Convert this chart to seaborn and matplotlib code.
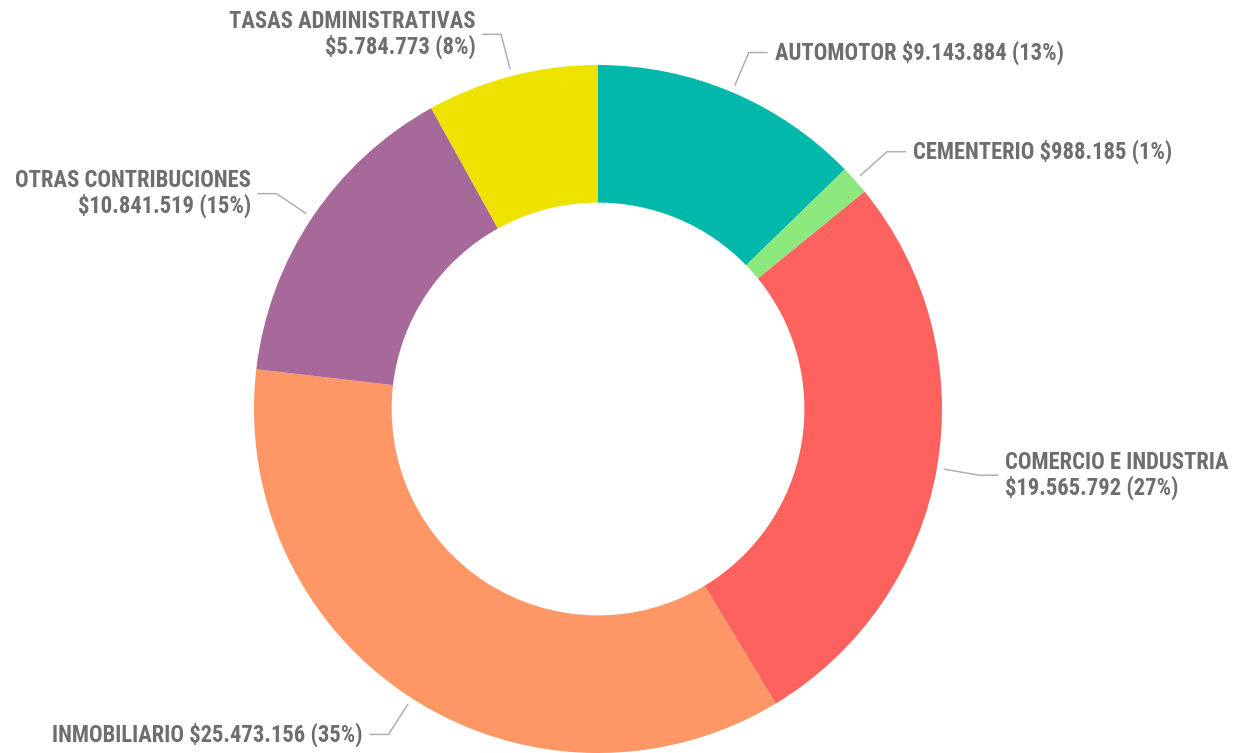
import numpy as np
import matplotlib
matplotlib.use("Agg")
import matplotlib.pyplot as plt
from matplotlib import font_manager as fm
import seaborn as sns

categories = ["AUTOMOTOR", "CEMENTERIO", "COMERCIO E INDUSTRIA", "INMOBILIARIO",
              "OTRAS CONTRIBUCIONES", "TASAS ADMINISTRATIVAS"]
values = [9143884, 988185, 19565792, 25473156, 10841519, 5784773]
colors = ["#01B8AA", "#8DE97D", "#FD625E", "#FE9666", "#A66999", "#EDE200"]
two_line = [False, False, True, False, True, True]

sns.set_theme(style="white")

fname = None
for f in fm.fontManager.ttflist:
    if f.fname.split("/")[-1].lower() == "robotocondensed-bold.ttf":
        fname = f.fname
        break
if fname:
    fontprops = fm.FontProperties(fname=fname, size=16.3)
else:
    fontprops = fm.FontProperties(family="DejaVu Sans", weight="bold", size=12.8)
plt.rcParams['font.family'] = ['DejaVu Sans']

W, H = 1243, 753
R = 344.0
cx, cy = 598.0, 409.0

fig = plt.figure(figsize=(W / 100, H / 100), dpi=100)
ax = fig.add_axes([0, 0, 1, 1])
ax.pie(values, startangle=90, counterclock=False, radius=1.0, colors=colors,
       wedgeprops=dict(width=0.4, linewidth=0))
ax.set_xlim(-cx / R, (W - cx) / R)
ax.set_ylim(-(H - cy) / R, cy / R)
ax.set_aspect('equal')
ax.axis('off')

total = sum(values)
cum = 0.0
for cat, v, tl in zip(categories, values, two_line):
    mid = (cum + v / 2) / total
    cum += v
    ang = np.deg2rad(90 - 360 * mid)
    x0, y0 = 1.02 * np.cos(ang), 1.02 * np.sin(ang)
    x1, y1 = 1.125 * np.cos(ang), 1.125 * np.sin(ang)
    side = 1 if x1 >= 0 else -1
    x2 = x1 + side * 0.055
    ax.plot([x0, x1, x2], [y0, y1, y1], color="#B0B0B0", lw=1.1, solid_capstyle='butt')
    pct = round(100 * v / total)
    amount = "${:,}".format(v).replace(",", ".")
    sep = "\n" if tl else " "
    txt = f"{cat}{sep}{amount} ({pct}%)"
    ax.text(x2 + side * 0.02, y1, txt, ha='left' if side > 0 else 'right',
            va='center', fontproperties=fontprops, color="#6E6E6E",
            linespacing=1.08, multialignment='left' if side > 0 else 'right')

fig.savefig("out.png", dpi=100, facecolor="white")
